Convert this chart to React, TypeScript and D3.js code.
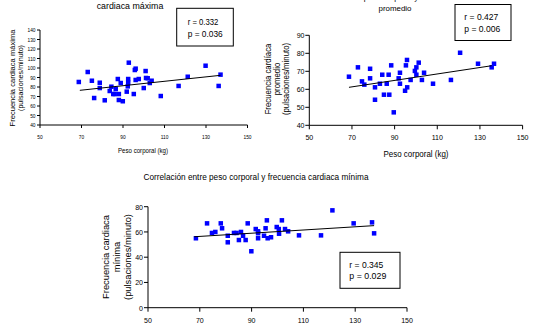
import React from "react";
import * as d3 from "d3";

// ---------- Data ----------
const xTicks = [50, 70, 90, 110, 130, 150];

// Chart 1: frecuencia cardiaca máxima
const pesoMax = [68.7, 73.0, 75.0, 76.1, 78.8, 78.8, 81.2, 83.6, 84.4, 85.3, 86.0, 86.5, 87.5, 88.0, 88.0, 88.9, 89.9, 91.8, 92.5, 92.5, 92.3, 92.8, 95.2, 95.7, 96.1, 96.1, 97.6, 100.0, 100.9, 101.1, 101.9, 102.9, 103.8, 108.2, 116.8, 121.2, 129.8, 136.1, 137.0];
const fcMax = [85.3, 95.8, 86.6, 68.4, 84.5, 78.9, 66.0, 75.8, 80.3, 72.6, 72.6, 77.9, 88.4, 72.6, 66.3, 84.2, 65.0, 75.1, 88.4, 84.5, 80.7, 105.6, 72.6, 97.9, 99.3, 87.4, 88.4, 78.9, 96.8, 89.5, 89.2, 84.2, 86.6, 70.5, 81.1, 90.8, 102.4, 81.1, 93.0];
const trendMax = [[69.2, 76.5], [137.0, 92.3]];
const yTicksMax = [40, 50, 60, 70, 80, 90, 100, 110, 120, 130, 140];
const statsMax = ["r = 0.332", "p = 0.036"];

// Chart 2: frecuencia cardiaca promedio
const pesoProm = [68.6, 72.8, 74.7, 75.8, 78.5, 78.5, 80.8, 80.8, 83.1, 84.2, 85.0, 86.3, 87.2, 87.5, 88.4, 89.6, 91.9, 92.5, 92.5, 94.9, 95.3, 95.8, 95.9, 97.5, 99.5, 100.2, 100.2, 101.3, 102.8, 103.8, 108.0, 116.4, 120.7, 129.1, 135.5, 136.6];
const fcProm = [67.0, 72.2, 64.4, 62.6, 71.4, 66.1, 61.1, 54.2, 63.1, 68.1, 57.0, 63.1, 68.1, 57.0, 73.3, 47.2, 66.1, 69.2, 63.1, 59.2, 73.3, 76.3, 61.1, 65.2, 70.2, 72.2, 68.1, 74.8, 65.2, 69.2, 63.1, 65.2, 80.3, 74.2, 72.2, 74.2];
const trendProm = [[68.6, 61.1], [135.5, 73.1]];
const yTicksProm = [40, 50, 60, 70, 80, 90];
const statsProm = ["r = 0.427", "p = 0.006"];

// Chart 3: frecuencia cardiaca mínima
const pesoMin = [68.5, 72.8, 74.7, 76.0, 78.1, 78.6, 80.8, 80.8, 83.2, 84.2, 85.1, 85.9, 86.7, 87.7, 88.5, 89.9, 91.6, 92.5, 92.5, 92.5, 94.8, 95.4, 95.9, 96.2, 97.5, 99.7, 100.5, 100.6, 101.7, 102.9, 104.1, 108.3, 116.8, 121.2, 129.4, 136.5, 137.3];
const fcMin = [55.0, 66.8, 59.2, 60.0, 66.8, 62.9, 57.0, 51.8, 59.2, 59.2, 53.6, 60.0, 57.0, 53.6, 66.8, 44.7, 62.3, 60.5, 55.0, 59.0, 57.0, 62.9, 69.2, 55.0, 55.8, 63.9, 62.3, 58.6, 69.2, 62.3, 60.5, 57.3, 57.3, 77.1, 66.8, 67.6, 58.9];
const trendMin = [[67.9, 56.2], [137.3, 65.0]];
const yTicksMin = [0, 20, 40, 60, 80];
const statsMin = ["r = 0.345", "p = 0.029"];

// ---------- Helpers ----------
const FONT = '"Liberation Sans", Arial, Helvetica, sans-serif';
let _ctx: CanvasRenderingContext2D | null = null;
function measure(s: string, fs: number): number {
  if (!_ctx) _ctx = document.createElement("canvas").getContext("2d");
  if (!_ctx) return s.length * fs * 0.5;
  _ctx.font = `${fs}px "Liberation Sans"`;
  return _ctx.measureText(s).width;
}

function T({ x, y, fs, sx = 1, w, anchor = "middle", rot = false, children }: any) {
  const s = String(children);
  const len = w ?? measure(s, fs) * sx;
  const common: any = {
    fontSize: fs,
    fontFamily: FONT,
    textAnchor: anchor,
    textLength: len,
    lengthAdjust: "spacingAndGlyphs",
    fill: "#000",
  };
  if (rot) return <text transform={`translate(${x},${y}) rotate(-90)`} {...common}>{s}</text>;
  return <text x={x} y={y} {...common}>{s}</text>;
}

function Scatter({ peso, fc, trend, yTicks, xr, yr, yd, tick, tickFs, tickSx, xLabY, yLabX, yLabDy }: any) {
  const x = d3.scaleLinear().domain([50, 150]).range(xr);
  const y = d3.scaleLinear().domain(yd).range(yr);
  const line = d3.line<number[]>().x((d) => x(d[0])).y((d) => y(d[1]));
  const x0 = xr[0], y0 = yr[0];
  return (
    <g>
      <line x1={x0} x2={x0} y1={yr[1]} y2={y0} stroke="#000" strokeWidth={1} />
      <line x1={x0} x2={xr[1]} y1={y0} y2={y0} stroke="#000" strokeWidth={1} />
      {yTicks.map((t: number) => (
        <g key={"y" + t}>
          <line x1={x0 - tick} x2={x0} y1={y(t)} y2={y(t)} stroke="#000" strokeWidth={1} />
          <T x={yLabX} y={y(t) + yLabDy} fs={tickFs} sx={tickSx} anchor="end">{t}</T>
        </g>
      ))}
      {xTicks.map((t: number) => (
        <g key={"x" + t}>
          <line x1={x(t)} x2={x(t)} y1={y0} y2={y0 + tick} stroke="#000" strokeWidth={1} />
          <T x={x(t)} y={xLabY} fs={tickFs} sx={tickSx}>{t}</T>
        </g>
      ))}
      {peso.map((p: number, i: number) => (
        <rect key={i} x={x(p) - 2.25} y={y(fc[i]) - 2.25} width={4.5} height={4.5} fill="#0000FF" />
      ))}
      <path d={line(trend) || ""} stroke="#000" strokeWidth={1} fill="none" />
    </g>
  );
}

export default function App() {
  return (
    <svg
      width={533}
      height={330}
      viewBox="0 0 533 330"
      style={{ position: "absolute", left: 0, top: 0, background: "#fff" }}
    >
      <rect x={0} y={0} width={533} height={330} fill="#fff" />

      {/* ---------- Chart 1 ---------- */}
      <T x={130} y={8.5} fs={8.8} w={66.7}>cardiaca máxima</T>
      <rect x={176.7} y={8.3} width={56.6} height={37.7} fill="#fff" stroke="#000" strokeWidth={1} />
      <T x={187.7} y={25} fs={9} w={30.7} anchor="start">{statsMax[0]}</T>
      <T x={187.7} y={36.5} fs={9} w={35} anchor="start">{statsMax[1]}</T>
      <T x={15.3} y={78} fs={7.5} w={97} rot>Frecuencia cardiaca máxima</T>
      <T x={23.3} y={78} fs={7.5} w={66} rot>(pulsaciones/minuto)</T>
      <T x={143} y={152.5} fs={7.5} w={50}>Peso corporal (kg)</T>
      <Scatter
        peso={pesoMax} fc={fcMax} trend={trendMax} yTicks={yTicksMax}
        xr={[40, 247.5]} yr={[125, 30]} yd={[40, 140]}
        tick={3} tickFs={6} tickSx={0.8} xLabY={139} yLabX={35.5} yLabDy={2.1}
      />

      {/* ---------- Chart 2 ---------- */}
      <T x={395} y={0} fs={8}>Correlación entre peso corporal y frecuencia cardiaca</T>
      <T x={395} y={11} fs={8} w={33}>promedio</T>
      <rect x={455} y={4.5} width={56} height={36} fill="#fff" stroke="#000" strokeWidth={1} />
      <T x={464.3} y={19.5} fs={9} w={34} anchor="start">{statsProm[0]}</T>
      <T x={464.3} y={31.5} fs={9} w={36} anchor="start">{statsProm[1]}</T>
      <T x={271} y={79} fs={9} sx={0.87} rot>Frecuencia cardíaca</T>
      <T x={280} y={79} fs={9} sx={0.87} rot>promedio</T>
      <T x={289} y={79} fs={9} sx={0.87} rot>(pulsaciones/minuto)</T>
      <T x={416} y={156.5} fs={9} w={65}>Peso corporal (kg)</T>
      <Scatter
        peso={pesoProm} fc={fcProm} trend={trendProm} yTicks={yTicksProm}
        xr={[309.3, 522.6]} yr={[125.3, 35.3]} yd={[40, 90]}
        tick={4} tickFs={8} tickSx={0.88} xLabY={139.5} yLabX={304.5} yLabDy={2.8}
      />

      {/* ---------- Chart 3 ---------- */}
      <T x={256} y={180} fs={8.3} w={225}>Correlación entre peso corporal y frecuencia cardiaca mínima</T>
      <rect x={340} y={252.3} width={60} height={36} fill="#fff" stroke="#000" strokeWidth={1} />
      <T x={349.3} y={267.5} fs={9} w={34} anchor="start">{statsMin[0]}</T>
      <T x={349.3} y={278.7} fs={9} w={37} anchor="start">{statsMin[1]}</T>
      <T x={108.8} y={257} fs={9.5} sx={0.98} rot>Frecuencia cardiaca</T>
      <T x={120} y={257} fs={9.5} sx={0.98} rot>mínima</T>
      <T x={131.3} y={257} fs={9.5} sx={0.98} rot>(pulsaciones/minuto)</T>
      <Scatter
        peso={pesoMin} fc={fcMin} trend={trendMin} yTicks={yTicksMin}
        xr={[148, 407]} yr={[307.7, 206.7]} yd={[0, 80]}
        tick={4} tickFs={8} tickSx={0.88} xLabY={323} yLabX={143} yLabDy={2.9}
      />
    </svg>
  );
}
